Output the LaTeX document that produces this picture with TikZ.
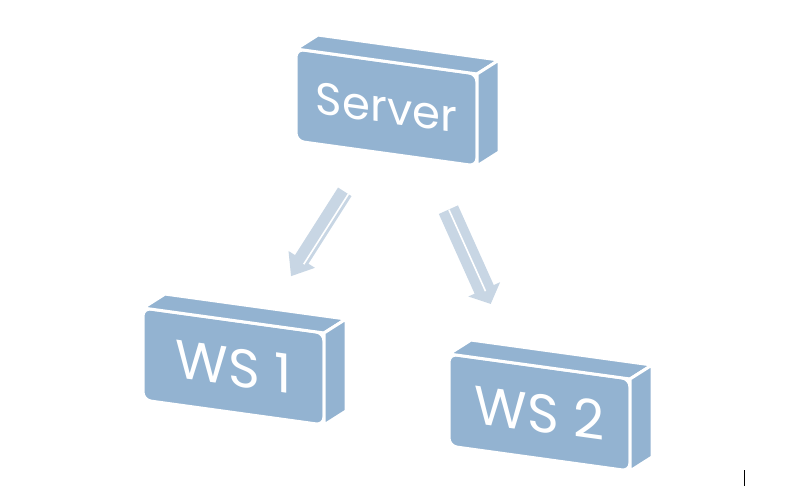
\documentclass[tikz,border=0pt]{standalone}
\usepackage{fontspec}
\setmainfont{Poppins}
\usetikzlibrary{arrows.meta}
\definecolor{boxblue}{RGB}{147,179,209}
\definecolor{arrowblue}{RGB}{200,214,228}

\tikzset{
  slab/.style={rectangle, rounded corners=8pt, fill=boxblue, draw=white, line width=3pt,
    minimum width=181pt, minimum height=92pt, outer sep=0pt, text=white, transform shape},
  slabside/.style={fill=boxblue, draw=white, line width=3pt, line join=round},
  flow/.style={draw=arrowblue, line width=16pt},
  flowedge/.style={draw=white, line width=1.6pt},
}

% name, x, y, font size, label
\newcommand{\slab}[5]{%
  \begin{scope}[shift={(#2,#3)}, yslant=-0.138]
    \node[slab, font=\fontsize{#4}{#4}\selectfont] (#1) at (0,0) {#5};
    \filldraw[slabside] (#1.north west) -- (#1.north east) -- ++(22,-17) -- ++(-181,0) -- cycle;
    \filldraw[slabside] (#1.north east) -- ++(22,-17) -- ++(0,92) -- (#1.south east) -- cycle;
  \end{scope}}

\begin{document}
\begin{tikzpicture}[x=1pt, y=-1pt]
  \useasboundingbox (0,0) rectangle (797,495);

  \slab{server}{386.5}{107.5}{45}{Server}
  \slab{ws1}{233.5}{366.5}{54}{WS 1}
  \slab{ws2}{539.5}{412.5}{54}{WS 2}

  % server -> ws1
  \draw[flow, -{Triangle[width=30pt,length=20pt]}, shorten <=100pt, shorten >=107pt]
    ([xshift=12pt]server.center) -- (ws1.center);
  \draw[flowedge, shorten <=100pt, shorten >=124pt, transform canvas={xshift=3.6pt, yshift=-2.3pt}]
    ([xshift=12pt]server.center) -- (ws1.center);

  % server -> ws2
  \draw[flow, line width=21pt, -{Triangle[width=34pt,length=16pt]}, shorten <=112pt, shorten >=119pt]
    ([xshift=16pt]server.center) -- (ws2.center);
  \draw[flowedge, shorten <=112pt, shorten >=133pt, transform canvas={xshift=0.5pt}]
    ([xshift=16pt]server.center) -- (ws2.center);

  \draw[line width=1pt] (744.5,470) -- (744.5,486);
\end{tikzpicture}
\end{document}
